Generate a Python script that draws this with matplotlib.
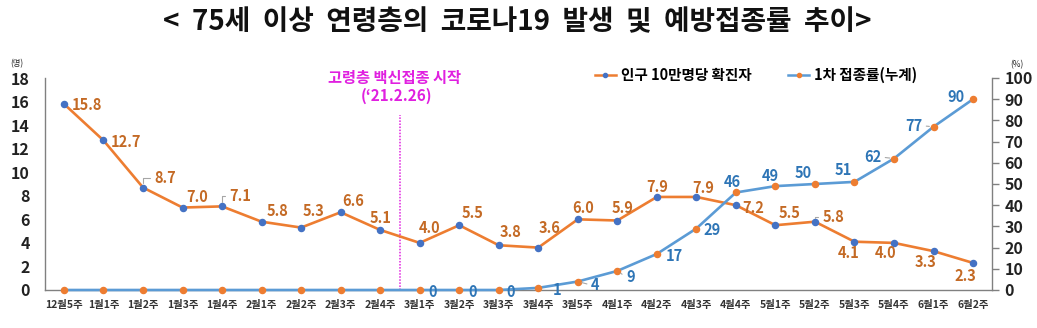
import matplotlib
matplotlib.use("Agg")
import matplotlib.pyplot as plt
from matplotlib.lines import Line2D

plt.rcParams['font.family'] = ['Noto Sans CJK KR', 'DejaVu Sans']

# ---- data ----
weeks = ["12월5주", "1월1주", "1월2주", "1월3주", "1월4주", "2월1주", "2월2주", "2월3주",
         "2월4주", "3월1주", "3월2주", "3월3주", "3월4주", "3월5주", "4월1주", "4월2주",
         "4월3주", "4월4주", "5월1주", "5월2주", "5월3주", "5월4주", "6월1주", "6월2주"]
cases_per_100k = [15.8, 12.7, 8.7, 7.0, 7.1, 5.8, 5.3, 6.6, 5.1, 4.0, 5.5, 3.8,
                  3.6, 6.0, 5.9, 7.9, 7.9, 7.2, 5.5, 5.8, 4.1, 4.0, 3.3, 2.3]
first_dose_rate = [0, 0, 0, 0, 0, 0, 0, 0, 0, 0, 0, 0,
                   1, 4, 9, 17, 29, 46, 49, 50, 51, 62, 77, 90]
left_ticks = list(range(0, 19, 2))
right_ticks = list(range(0, 101, 10))
vaccine_start_pos = 8.5

# ---- label offsets (pixels, relative to each point) ----
case_offsets = [(22.5, -1), (23, -1.5), (22, 9.5), (14.5, 10.5), (18.5, 10.5), (15.5, 10.7),
                (12, 16.6), (12.5, 11.3), (0, 12), (9.5, 15), (13, 12), (11.5, 13),
                (11, 19.6), (5.5, 11), (5, 12.5), (0.5, 10), (7, 9), (17.5, -3),
                (14, 12), (18.5, 4.7), (-5.5, -11.3), (-8.5, -10), (-8, -11), (-7.5, -13)]
dose_offsets = {9: (12.5, -2), 10: (13, -2), 11: (11.5, -2), 12: (19, -2), 13: (17.5, -3.5),
                14: (13, -6), 15: (17.5, -2), 16: (16, -1.5), 17: (-3.5, 10.5), 18: (-5, 10),
                19: (-11.5, 11), 20: (-11, 12), 21: (-21.5, 1.5), 22: (-20, 1), 23: (-17.5, 2)}
# labels joined to their point by a thin leader line
case_leaders = {2, 4, 19}
dose_leaders = {13, 14, 21, 22}

ORANGE = "#ED7D31"
BLUE = "#5B9BD5"
DOT_BLUE = "#4472C4"
CASE_TXT = "#C46A25"
DOSE_TXT = "#2E75B6"
MAGENTA = "#E020E0"
AXIS_GREY = "#808080"
LEADER = "#A6A6A6"

W, H = 1037, 328
fig = plt.figure(figsize=(W / 100, H / 100), dpi=100)
ax = fig.add_axes([45 / W, 1 - 290 / H, (992 - 45) / W, (290 - 78) / H])
ax2 = ax.twinx()

x = list(range(len(weeks)))

ax.plot(x, cases_per_100k, color=ORANGE, lw=1.9, marker='o', ms=4.4,
        mfc=DOT_BLUE, mec=DOT_BLUE, zorder=3)
ax2.plot(x, first_dose_rate, color=BLUE, lw=1.9, marker='o', ms=4.4,
         mfc=ORANGE, mec=ORANGE, zorder=3, clip_on=False)

ax.set_xlim(-0.48, 23.48)
ax.set_ylim(0, 18)
ax2.set_ylim(0, 100)
ax.set_yticks(left_ticks)
ax2.set_yticks(right_ticks)
ax.set_xticks(x)
ax.set_xticklabels(weeks, fontsize=7.5, fontweight='bold', color='#333333')

for a in (ax, ax2):
    a.spines['top'].set_visible(False)
    for s in ('left', 'right', 'bottom'):
        a.spines[s].set_color(AXIS_GREY)
        a.spines[s].set_linewidth(1.0)
ax.spines['right'].set_visible(False)
ax2.spines['left'].set_visible(False)
ax2.spines['bottom'].set_visible(False)

ax.tick_params(axis='y', length=0, pad=11, labelsize=11.5, labelcolor='#222222')
ax.tick_params(axis='x', length=0, pad=7)
ax2.tick_params(axis='y', length=5, width=1, color=AXIS_GREY, direction='out', pad=4,
                labelsize=11.5, labelcolor='#222222')
for lab in ax.get_yticklabels() + ax2.get_yticklabels():
    lab.set_fontweight('bold')


def leader_props(dx):
    # short angled connector from the label edge to its point
    rel = (0.0, 0.5) if dx > 0 else (1.0, 0.5)
    return dict(arrowstyle='-', color=LEADER, lw=0.8, shrinkA=1, shrinkB=3, relpos=rel,
                connectionstyle='angle,angleA=0,angleB=90,rad=0')


# value labels
for i, v in enumerate(cases_per_100k):
    dx, dy = case_offsets[i]
    ax.annotate(f"{v:.1f}", (i, v), xytext=(dx, dy), textcoords='offset pixels',
                ha='center', va='center', fontsize=10.5, fontweight='bold',
                color=CASE_TXT, zorder=5,
                arrowprops=leader_props(dx) if i in case_leaders else None)
for i, (dx, dy) in dose_offsets.items():
    ax2.annotate(f"{first_dose_rate[i]}", (i, first_dose_rate[i]), xytext=(dx, dy),
                 textcoords='offset pixels', ha='center', va='center', fontsize=10.5,
                 fontweight='bold', color=DOSE_TXT, zorder=5, annotation_clip=False,
                 arrowprops=dict(arrowstyle='-', color=LEADER, lw=0.8, shrinkA=1, shrinkB=3,
                                 relpos=(0.0, 0.5) if dx > 0 else (1.0, 0.5))
                 if i in dose_leaders else None)

# vaccination start marker
ax.vlines(vaccine_start_pos, 0, 14.85, colors=MAGENTA, linestyles=(0, (1, 1)), lw=1.1, zorder=2)
fig.text(395 / W, 1 - 78 / H, "고령층 백신접종 시작", ha='center', va='center',
         fontsize=11, fontweight='bold', color=MAGENTA)
fig.text(397 / W, 1 - 96 / H, "(‘21.2.26)", ha='center', va='center',
         fontsize=11, fontweight='bold', color=MAGENTA)

# legend
handles = [Line2D([], [], color=ORANGE, lw=1.8, marker='o', ms=3, mfc=DOT_BLUE, mec=DOT_BLUE),
           Line2D([], [], color=BLUE, lw=1.8, marker='o', ms=3, mfc=ORANGE, mec=ORANGE)]
fig.legend(handles, ["인구 10만명당 확진자", "1차 접종률(누계)"], ncol=2, loc='center',
           bbox_to_anchor=(756 / W, 1 - 75 / H), frameon=False, handlelength=1.45,
           handletextpad=0.35, columnspacing=2.5, prop=dict(size=10.5, weight='bold'))

# units
fig.text(17 / W, 1 - 64 / H, "(명)", ha='center', va='center', fontsize=6, color='#222222')
fig.text(1017 / W, 1 - 65 / H, "(%)", ha='center', va='center', fontsize=6, color='#222222')

# title
fig.text(517.5 / W, 1 - 22 / H, "<  75세  이상  연령층의  코로나19  발생  및  예방접종률  추이>",
         ha='center', va='center', fontsize=20, fontweight='bold', color='#111111')

fig.savefig("out.png", dpi=100)
